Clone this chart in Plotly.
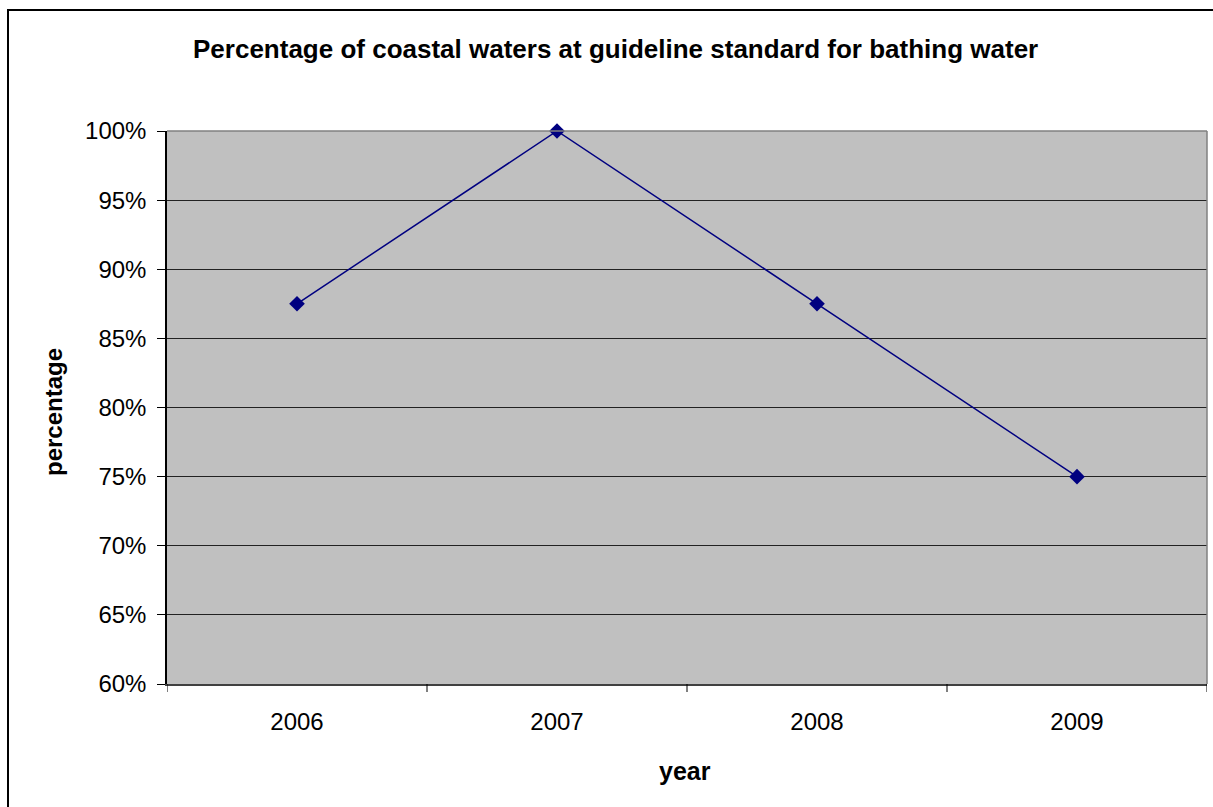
import plotly.graph_objects as go

years = ["2006", "2007", "2008", "2009"]
values = [0.875, 1.00, 0.875, 0.75]
y_ticks = [0.60, 0.65, 0.70, 0.75, 0.80, 0.85, 0.90, 0.95, 1.00]
y_labels = ["60%", "65%", "70%", "75%", "80%", "85%", "90%", "95%", "100%"]

x_pos = list(range(len(years)))

fig = go.Figure()
fig.add_trace(go.Scatter(
    x=x_pos, y=values, mode="lines+markers",
    line=dict(color="#000080", width=1.5),
    marker=dict(symbol="diamond", size=12, color="#000080"),
    showlegend=False, cliponaxis=False,
))

L, R, T, B = 167, 6, 131, 123
W, H = 1213, 807
pw, ph = W - L - R, H - T - B

def px(xp):
    return (xp - L) / pw

def py(yp):
    return (H - B - yp) / ph

FONT = "Liberation Sans, Arial, sans-serif"

fig.update_layout(
    width=W, height=H,
    margin=dict(l=L, r=R, t=T, b=B, pad=0),
    paper_bgcolor="white",
    plot_bgcolor="#C0C0C0",
    font=dict(family=FONT, size=24, color="black"),
    xaxis=dict(
        range=[-0.5, 3.5],
        tickmode="array",
        tickvals=x_pos,
        ticktext=years,
        ticks="",
        ticklabelstandoff=15,
        showgrid=False,
        zeroline=False,
        showline=True, linecolor="#404040", linewidth=2,
        fixedrange=True,
    ),
    yaxis=dict(
        range=[0.60, 1.00],
        tickmode="array",
        tickvals=y_ticks,
        ticktext=y_labels,
        ticks="outside", ticklen=8, tickcolor="black",
        ticklabelstandoff=6,
        showgrid=True, gridcolor="#222222", gridwidth=1,
        zeroline=False,
        showline=True, linecolor="black", linewidth=1.5,
        fixedrange=True,
    ),
)

annotations = [
    dict(text="<b>Percentage of coastal waters at guideline standard for bathing water</b>",
         xref="paper", yref="paper", x=px(615), y=py(49),
         xanchor="center", yanchor="middle", showarrow=False,
         font=dict(family=FONT, size=26)),
    dict(text="<b>percentage</b>",
         xref="paper", yref="paper", x=px(53), y=py(412),
         xanchor="center", yanchor="middle", showarrow=False, textangle=-90,
         font=dict(family=FONT, size=24)),
    dict(text="<b>year</b>",
         xref="paper", yref="paper", x=px(685), y=py(771),
         xanchor="center", yanchor="middle", showarrow=False,
         font=dict(family=FONT, size=25)),
]

shapes = []
# category boundary ticks on x axis
for b in [-0.5, 0.5, 1.5, 2.5, 3.5]:
    shapes.append(dict(type="line", xref="x", yref="paper",
                       x0=b, x1=b, y0=0, y1=-8 / ph,
                       line=dict(color="black", width=1)))
# plot area gray border (top and right)
shapes.append(dict(type="line", xref="paper", yref="paper", x0=0, x1=1, y0=1, y1=1,
                   line=dict(color="#808080", width=1.5)))
shapes.append(dict(type="line", xref="paper", yref="paper", x0=1, x1=1, y0=0, y1=1,
                   line=dict(color="#808080", width=1.5)))
# outer chart border
shapes.append(dict(type="rect", xref="paper", yref="paper",
                   x0=px(8), x1=px(1225), y0=py(10), y1=py(830),
                   line=dict(color="black", width=2), fillcolor="rgba(0,0,0,0)",
                   layer="above"))
fig.update_layout(shapes=shapes, annotations=annotations)

fig.write_html("out.html", config={"displayModeBar": False},
               post_script="document.body.style.margin='0';")
